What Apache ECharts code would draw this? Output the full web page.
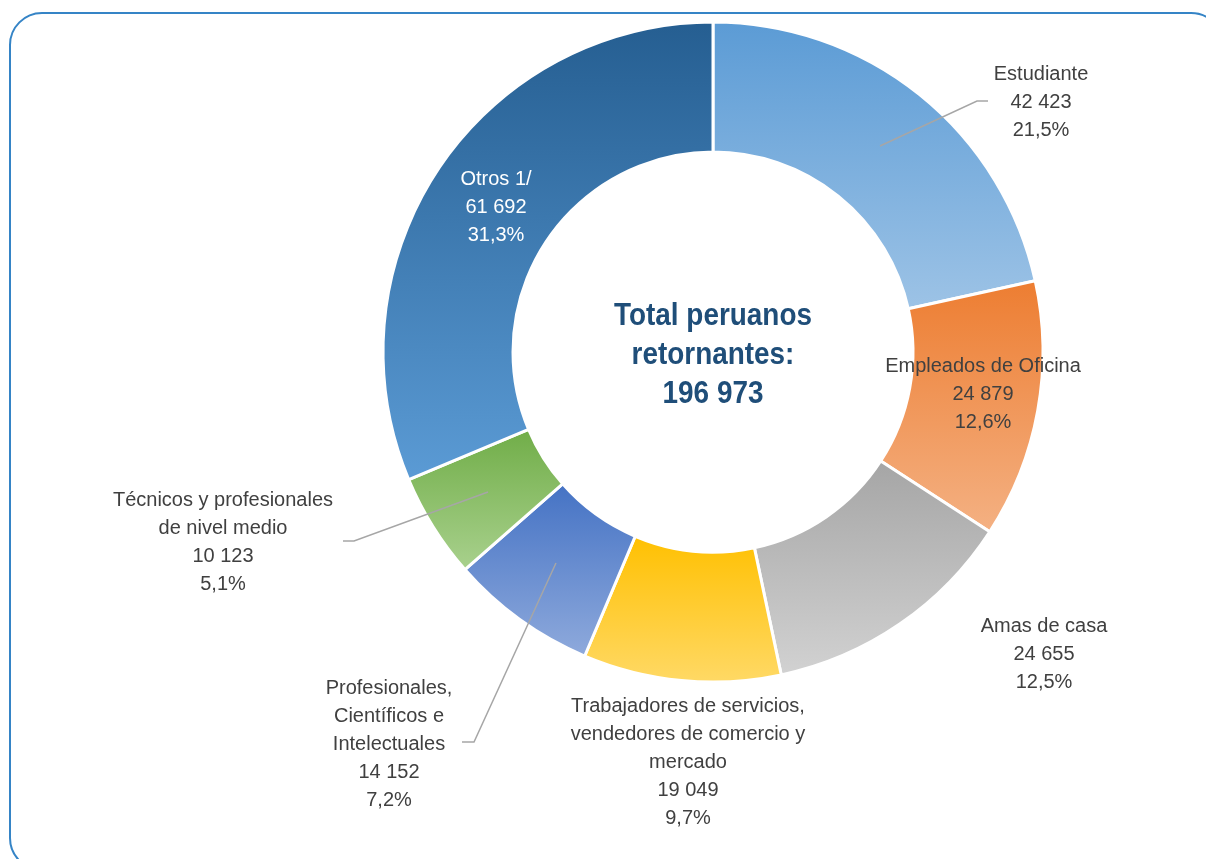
<!DOCTYPE html>
<html>
<head>
<meta charset="utf-8">
<style>
  html, body { margin: 0; padding: 0; background: #fff; }
  #chart { width: 1206px; height: 859px; }
</style>
<script src="https://cdn.jsdelivr.net/npm/echarts@6/dist/echarts.min.js"></script>
</head>
<body>
<div id="chart"></div>
<script>
// ocupaciones de peruanos retornantes
const categories = [
  'Estudiante',
  'Empleados de Oficina',
  'Amas de casa',
  'Trabajadores de servicios,\nvendedores de comercio y\nmercado',
  'Profesionales,\nCientíficos e\nIntelectuales',
  'Técnicos y profesionales\nde nivel medio',
  'Otros 1/'
]
const values = [42423, 24879, 24655, 19049, 14152, 10123, 61692]
const totalLabel = 'Total peruanos\nretornantes:\n196 973'

const gradients = [
  ['#5b9bd5', '#9dc3e6'],
  ['#ed7d31', '#f4b183'],
  ['#a5a5a5', '#d2d2d2'],
  ['#ffc000', '#ffd966'],
  ['#4472c4', '#8faadc'],
  ['#70ad47', '#a9d18e'],
  ['#255e91', '#5b9bd5']
]

// where each label sits, and its leader line if any
const labelSpots = [
  { x: 1041, y: 102, line: [[880, 146], [977, 101], [988, 101]] },
  { x: 983, y: 394 },
  { x: 1044, y: 654 },
  { x: 688, y: 762 },
  { x: 389, y: 744, line: [[556, 563], [474, 742], [462, 742]] },
  { x: 223, y: 542, line: [[488, 492], [354, 541], [343, 541]] },
  { x: 496, y: 207, color: '#ffffff' }
]

const font = '"Liberation Sans Narrow", "Arial Narrow", "Liberation Sans", Arial, sans-serif'
const total = values.reduce((a, b) => a + b, 0)
const fmtNum = (n) => String(n).replace(/\B(?=(\d{3})+(?!\d))/g, ' ')

// leader lines drawn on top of the ring
const leaders = labelSpots.filter((s) => s.line).map((s) => ({
  type: 'polyline',
  shape: { points: s.line },
  style: { stroke: '#a6a6a6', lineWidth: 1.5, fill: 'none' },
  z: 20
}))

const chart = echarts.init(document.getElementById('chart'))

chart.setOption({
  backgroundColor: '#ffffff',
  animation: false,
  graphic: [
    {
      type: 'rect',
      shape: { x: 10, y: 13, width: 1213, height: 857, r: 32 },
      style: { fill: 'none', stroke: '#3584c6', lineWidth: 2 },
      z: 0
    },
    {
      type: 'text',
      x: 713,
      y: 355,
      scaleX: 0.9,
      style: {
        text: totalLabel,
        font: 'bold 31px ' + font,
        lineHeight: 39,
        fill: '#1f4e79',
        textAlign: 'center',
        textVerticalAlign: 'middle'
      },
      z: 10
    },
    ...leaders
  ],
  series: [
    {
      type: 'pie',
      center: [713, 352],
      radius: [200, 330],
      startAngle: 90,
      clockwise: true,
      avoidLabelOverlap: false,
      itemStyle: { borderColor: '#ffffff', borderWidth: 3 },
      label: {
        show: true,
        position: 'outside',
        fontFamily: font,
        fontSize: 20,
        lineHeight: 28,
        color: '#404040',
        align: 'center',
        formatter: (p) =>
          p.name + '\n' + fmtNum(p.value) + '\n' +
          (p.value / total * 100).toFixed(1).replace('.', ',') + '%'
      },
      labelLine: { show: false },
      labelLayout: (params) => {
        const s = labelSpots[params.dataIndex]
        return { x: s.x, y: s.y, align: 'center', verticalAlign: 'middle' }
      },
      data: categories.map((name, i) => ({
        name,
        value: values[i],
        itemStyle: {
          color: new echarts.graphic.LinearGradient(0, 0, 0, 1, [
            { offset: 0, color: gradients[i][0] },
            { offset: 1, color: gradients[i][1] }
          ])
        },
        label: labelSpots[i].color ? { color: labelSpots[i].color } : undefined
      }))
    }
  ]
})
</script>
</body>
</html>
